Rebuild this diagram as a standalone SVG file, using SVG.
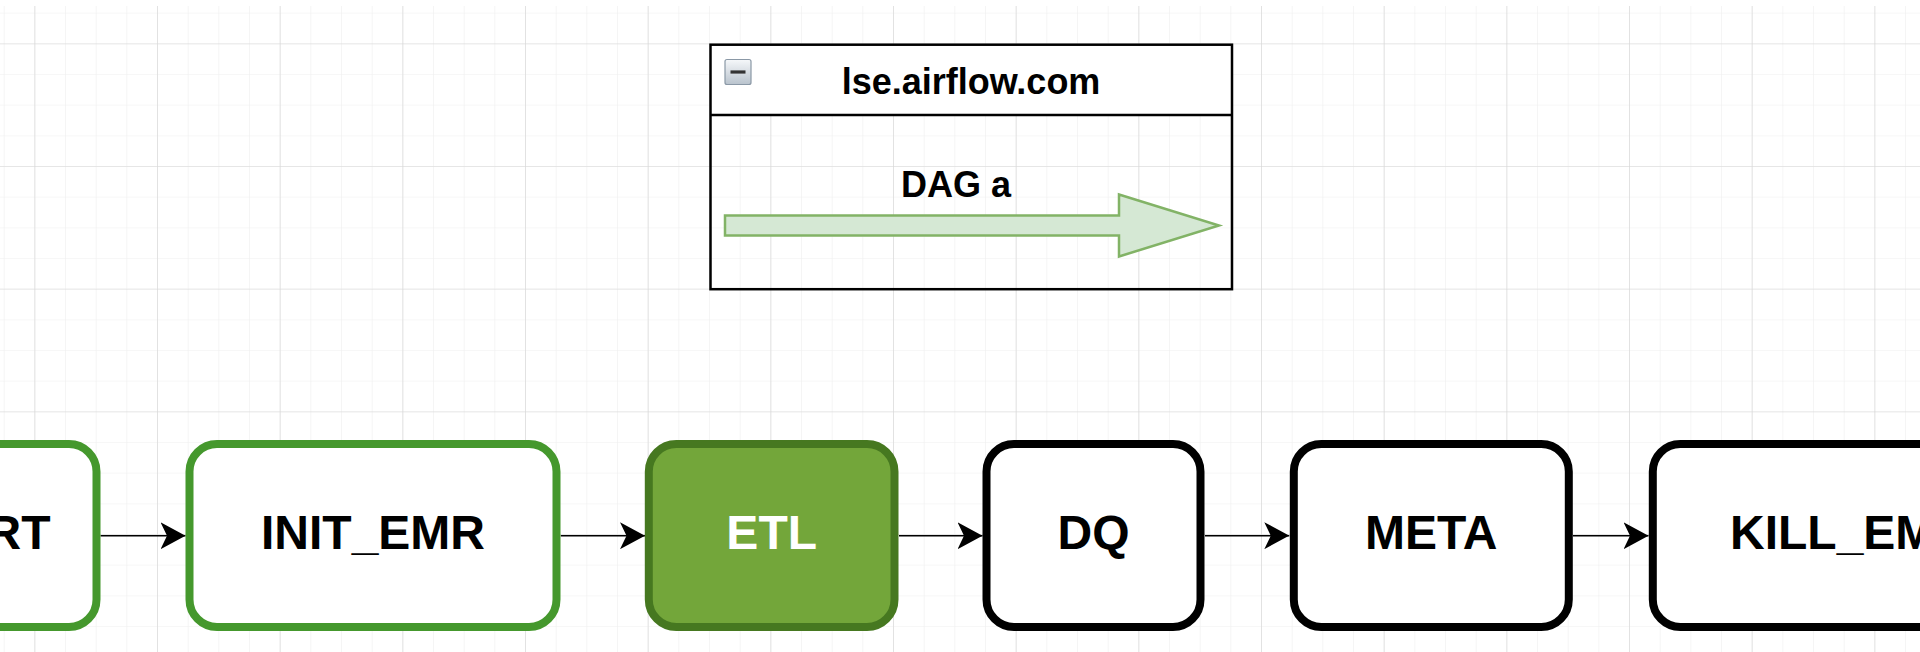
<svg xmlns="http://www.w3.org/2000/svg" width="1920" height="652" viewBox="0 0 1920 652">
  <style>
    .lbl { font-family: "Liberation Sans", Arial, sans-serif; font-weight: bold; text-anchor: middle; }
    .node-text { font-size: 48px; fill: #000; }
    .box-green { fill: #ffffff; stroke: #45982D; stroke-width: 8; }
    .box-black { fill: #ffffff; stroke: #000000; stroke-width: 8; }
    .box-etl { fill: #73A63A; stroke: #467820; stroke-width: 8; }
    .edge { fill: none; stroke: #000; stroke-width: 1.5; marker-end: url(#arrow); }
  </style>
  <defs>
    <pattern id="minor" patternUnits="userSpaceOnUse" x="3.67" y="12.67" width="30.667" height="30.667">
      <path d="M0,0 H30.667 M0,0 V30.667" stroke="#efefef" stroke-width="1.2" fill="none"/>
    </pattern>
    <pattern id="major" patternUnits="userSpaceOnUse" x="34.33" y="43.33" width="122.667" height="122.667">
      <path d="M0,0 H122.667 M0,0 V122.667" stroke="#d6d6d6" stroke-width="1.2" fill="none"/>
    </pattern>
    <linearGradient id="iconGrad" x1="0" y1="0" x2="0" y2="1">
      <stop offset="0" stop-color="#f6f8fa"/>
      <stop offset="1" stop-color="#b9c3cd"/>
    </linearGradient>
    <marker id="arrow" markerUnits="userSpaceOnUse" viewBox="0 0 25 27" refX="25" refY="13.5" markerWidth="25" markerHeight="27" orient="auto">
      <path d="M0,0 L25,13.5 L0,27 L6.5,13.5 Z" fill="#000"/>
    </marker>
  </defs>

  <rect x="0" y="0" width="1920" height="652" fill="#ffffff"/>
  <rect x="0" y="6" width="1920" height="646" fill="url(#minor)"/>
  <rect x="0" y="6" width="1920" height="646" fill="url(#major)"/>

  <g id="container-lse-airflow">
    <rect x="710.5" y="44.7" width="521.5" height="70.3" fill="#ffffff"/>
    <rect x="710.5" y="44.7" width="521.5" height="244.5" fill="none" stroke="#000" stroke-width="2.5"/>
    <line x1="710.5" y1="115" x2="1232" y2="115" stroke="#000" stroke-width="2.5"/>
    <rect x="725" y="59.5" width="26" height="25" rx="2" fill="url(#iconGrad)" stroke="#8a98a6" stroke-width="1.2"/>
    <line x1="730.5" y1="72" x2="745.5" y2="72" stroke="#333" stroke-width="3.2"/>
    <text class="lbl" x="971" y="93.5" font-size="36">lse.airflow.com</text>
  </g>

  <g id="dag-a">
    <polygon points="725,215.5 1119,215.5 1119,194.5 1219,225.5 1119,256.5 1119,235.5 725,235.5" fill="#d5e8d4" stroke="#82b366" stroke-width="2.5" stroke-linejoin="miter"/>
    <text class="lbl" x="956" y="196.5" font-size="36">DAG a</text>
  </g>

  <g id="connectors">
    <line class="edge" x1="100.5" y1="535.7" x2="185.5" y2="535.7"/>
    <line class="edge" x1="560.7" y1="535.7" x2="645" y2="535.7"/>
    <line class="edge" x1="899" y1="535.7" x2="982.5" y2="535.7"/>
    <line class="edge" x1="1205" y1="535.7" x2="1289.3" y2="535.7"/>
    <line class="edge" x1="1573" y1="535.7" x2="1648.5" y2="535.7"/>
  </g>

  <g id="node-start">
    <rect class="box-green" x="-152" y="444" width="248.5" height="183" rx="27.5"/>
    <text class="lbl node-text" x="-27.75" y="549">START</text>
  </g>
  <g id="node-init-emr">
    <rect class="box-green" x="189.5" y="444" width="367" height="183" rx="27.5"/>
    <text class="lbl node-text" x="373" y="549">INIT_EMR</text>
  </g>
  <g id="node-etl">
    <rect class="box-etl" x="648.8" y="444" width="245.7" height="183" rx="27.5"/>
    <text class="lbl node-text" x="771.7" y="549" fill="#ffffff" style="fill:#ffffff">ETL</text>
  </g>
  <g id="node-dq">
    <rect class="box-black" x="986.5" y="444" width="214" height="183" rx="27.5"/>
    <text class="lbl node-text" x="1093.5" y="549">DQ</text>
  </g>
  <g id="node-meta">
    <rect class="box-black" x="1293.8" y="444" width="275" height="183" rx="27.5"/>
    <text class="lbl node-text" x="1431.3" y="549">META</text>
  </g>
  <g id="node-kill-emr">
    <rect class="box-black" x="1652.8" y="444" width="394.4" height="183" rx="27.5"/>
    <text class="lbl node-text" x="1850" y="549">KILL_EMR</text>
  </g>
</svg>
